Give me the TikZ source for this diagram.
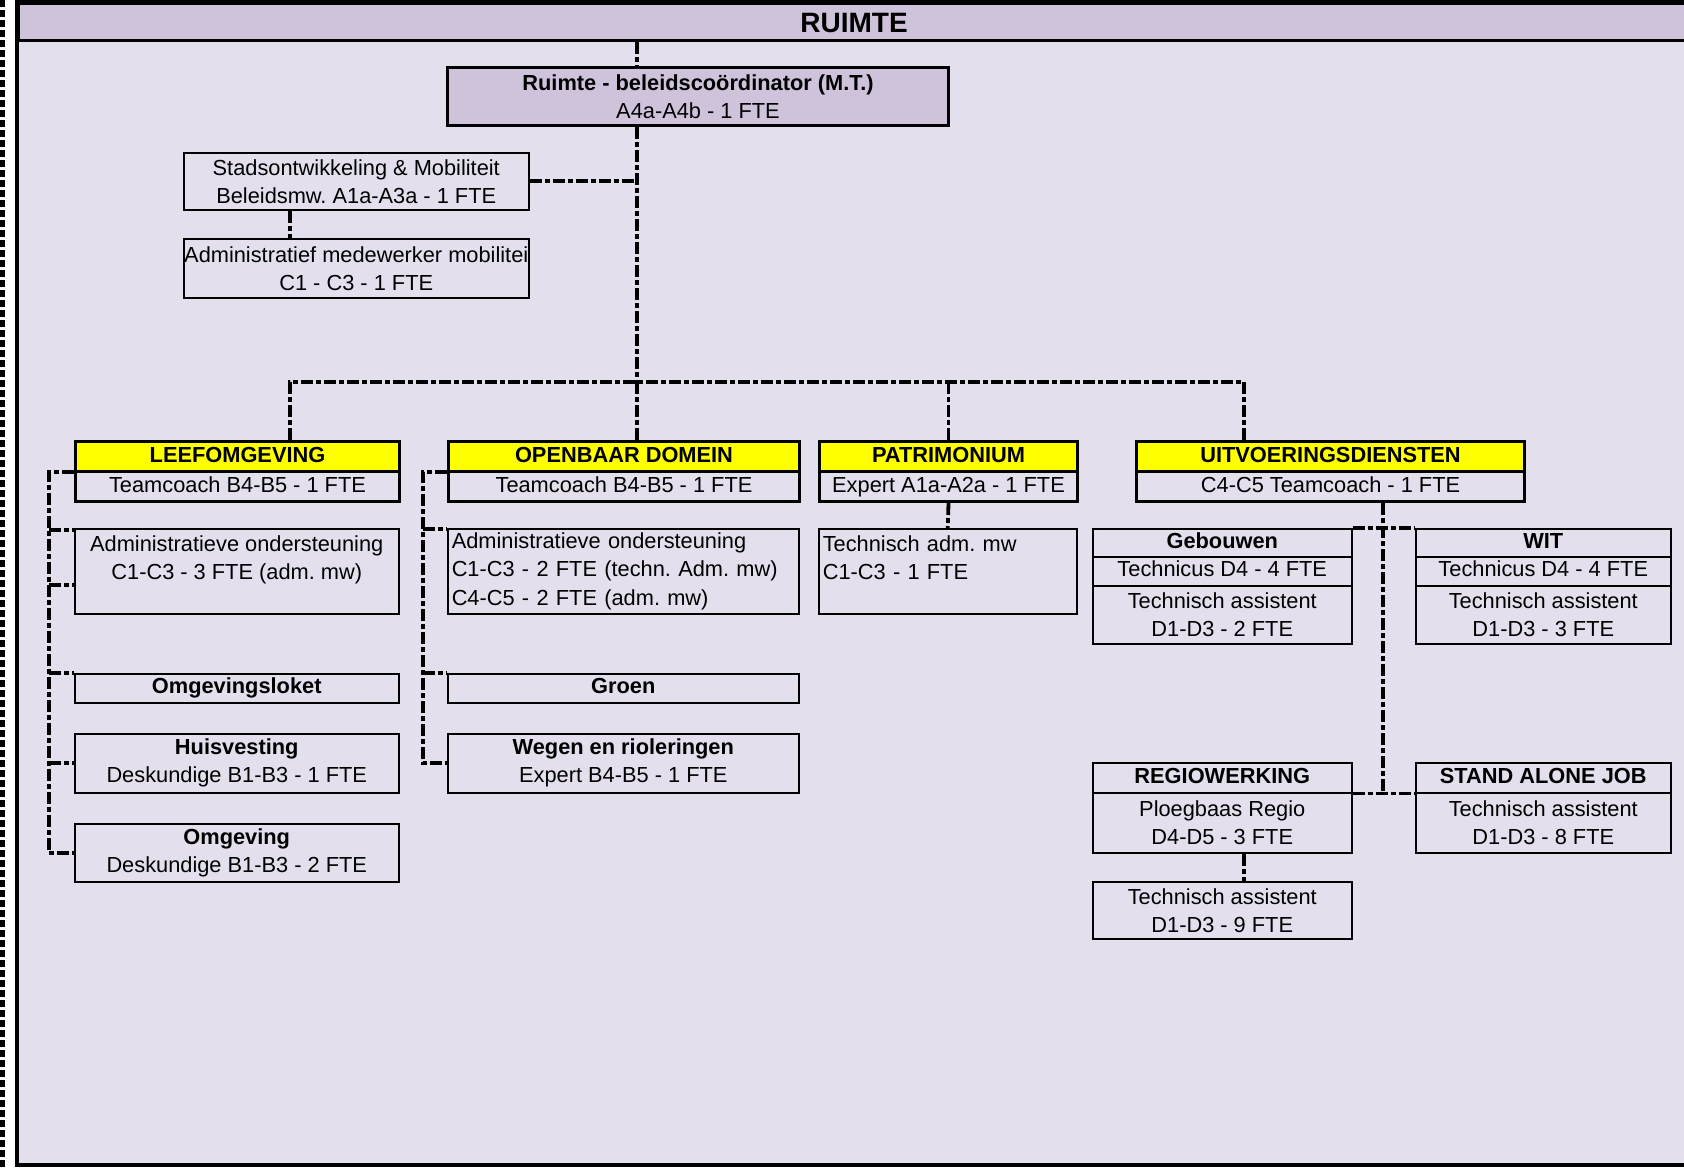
\documentclass[tikz,border=0pt]{standalone}
\usepackage{fontspec}
\setmainfont{Liberation Sans}
\usetikzlibrary{calc}
\definecolor{bg}{RGB}{227,223,237}
\definecolor{hdrc}{RGB}{207,195,220}
\definecolor{yel}{RGB}{255,255,0}
\frenchspacing
\begin{document}
\frenchspacing
\begin{tikzpicture}[x=0.5pt,y=-0.5pt,
  box/.style={draw, line width=0.75pt, fill=bg, inner sep=0pt, anchor=north west, align=center, font=\fontsize{10.9}{14}\selectfont},
  tbox/.style={box, line width=1.5pt},
  lbox/.style={box, align=left, inner xsep=2pt},
  sl/.style={text height=7.9pt, text depth=2.2pt},
  conn/.style={line width=1.9pt, dash pattern=on 6pt off 1.5pt on 2.5pt off 1.5pt}
]
\useasboundingbox (0,0) rectangle (1684,1168);
% left edge dashed line
\draw[line width=2.5pt, dash pattern=on 3.5pt off 1.5pt] (2.5,0) -- (2.5,1168);
% panel
\fill[bg] (17,2) rectangle (1720,1165);
\node[draw, line width=1.5pt, fill=hdrc, anchor=north west, minimum width=851.5pt, minimum height=18.5pt, inner sep=0pt] (hdr) at (17,2) {};
\draw[line width=2pt] (17,2) rectangle (1720,1165);
\node[font=\fontsize{14}{16}\selectfont\bfseries] (ruimte) at (854,23) {RUIMTE};
\draw[line width=1pt] (637,0) -- (637,2) (1523,0) -- (1523,2);

% top level
\node[tbox, fill=hdrc, minimum width=250.5pt, minimum height=29pt] (coord) at (446,66) {\textbf{Ruimte - beleidscoördinator (M.T.)}\\A4a-A4b - 1 FTE};
\node[box, minimum width=172.5pt, minimum height=28.5pt] (stads) at (183,152) {Stadsontwikkeling \& Mobiliteit\\Beleidsmw. A1a-A3a - 1 FTE};
\node[box, minimum width=172.5pt, minimum height=29.5pt] (admmob) at (183,238) {Administratief medewerker mobilitei\\C1 - C3 - 1 FTE};

% departments
\node[tbox, sl, fill=yel, minimum width=162pt, minimum height=15pt] (leefT) at (74,440) {\textbf{LEEFOMGEVING}};
\node[tbox, sl, minimum width=162pt, minimum height=15pt] (leefS) at (74,470) {Teamcoach B4-B5 - 1 FTE};
\node[tbox, sl, fill=yel, minimum width=175.5pt, minimum height=15pt] (odT) at (447,440) {\textbf{OPENBAAR DOMEIN}};
\node[tbox, sl, minimum width=175.5pt, minimum height=15pt] (odS) at (447,470) {Teamcoach B4-B5 - 1 FTE};
\node[tbox, sl, fill=yel, minimum width=129pt, minimum height=15pt] (patT) at (818,440) {\textbf{PATRIMONIUM}};
\node[tbox, sl, minimum width=129pt, minimum height=15pt] (patS) at (818,470) {Expert A1a-A2a - 1 FTE};
\node[tbox, sl, fill=yel, minimum width=194pt, minimum height=15pt] (uitvT) at (1135,440) {\textbf{UITVOERINGSDIENSTEN}};
\node[tbox, sl, minimum width=194pt, minimum height=15pt] (uitvS) at (1135,470) {C4-C5 Teamcoach - 1 FTE};

% leefomgeving children
\node[box, minimum width=162pt, minimum height=42.5pt] (la) at (74,528) {Administratieve ondersteuning\\C1-C3 - 3 FTE (adm. mw)\\\mbox{}};
\node[box, sl, minimum width=162pt, minimum height=14.5pt] (lo) at (74,673) {\textbf{Omgevingsloket}};
\node[box, minimum width=162pt, minimum height=29.5pt] (lh) at (74,733) {\textbf{Huisvesting}\\Deskundige B1-B3 - 1 FTE};
\node[box, minimum width=162pt, minimum height=29pt] (lg) at (74,823) {\textbf{Omgeving}\\Deskundige B1-B3 - 2 FTE};

% openbaar domein children
\node[lbox, text width=171.5pt, minimum height=42.5pt, font=\fontsize{10.9}{14.3}\selectfont] (oa) at (447,528) {Administratieve ondersteuning\\C1-C3 - 2 FTE (techn. Adm. mw)\\C4-C5 - 2 FTE (adm. mw)};
\node[box, sl, minimum width=175.5pt, minimum height=14.5pt] (og) at (447,673) {\textbf{Groen}};
\node[box, minimum width=175.5pt, minimum height=29.5pt] (ow) at (447,733) {\textbf{Wegen en rioleringen}\\Expert B4-B5 - 1 FTE};

% patrimonium child
\node[lbox, text width=125pt, minimum height=42.5pt] (pa) at (818,528) {Technisch adm. mw\\C1-C3 - 1 FTE\\\mbox{}};

% uitvoeringsdiensten children
\node[box, sl, minimum width=129.5pt, minimum height=14pt] (geb1) at (1092,528) {\textbf{Gebouwen}};
\node[box, sl, minimum width=129.5pt, minimum height=14.5pt] (geb2) at (1092,556) {Technicus D4 - 4 FTE};
\node[box, minimum width=129.5pt, minimum height=29pt] (geb3) at (1092,585) {Technisch assistent\\D1-D3 - 2 FTE};
\node[box, sl, minimum width=127.5pt, minimum height=14pt] (wit1) at (1415,528) {\textbf{WIT}};
\node[box, sl, minimum width=127.5pt, minimum height=14.5pt] (wit2) at (1415,556) {Technicus D4 - 4 FTE};
\node[box, minimum width=127.5pt, minimum height=29pt] (wit3) at (1415,585) {Technisch assistent\\D1-D3 - 3 FTE};
\node[box, sl, minimum width=129.5pt, minimum height=15pt] (regT) at (1092,762) {\textbf{REGIOWERKING}};
\node[box, minimum width=129.5pt, minimum height=30pt] (regB) at (1092,792) {Ploegbaas Regio\\D4-D5 - 3 FTE};
\node[box, sl, minimum width=127.5pt, minimum height=15pt] (sajT) at (1415,762) {\textbf{STAND ALONE JOB}};
\node[box, minimum width=127.5pt, minimum height=30pt] (sajB) at (1415,792) {Technisch assistent\\D1-D3 - 8 FTE};
\node[box, minimum width=129.5pt, minimum height=28.5pt] (ta9) at (1092,881) {Technisch assistent\\D1-D3 - 9 FTE};

% connectors
\coordinate (spx) at (637,382);
\coordinate (busL) at (290,382);
\coordinate (busR) at (1244,382);
\coordinate (lx) at (49,0);
\coordinate (ox) at (423,0);
\coordinate (ux) at (1383,0);
\draw[conn] (hdr.south -| spx) -- (coord.north -| spx);
\draw[conn] (coord.south -| spx) -- (spx);
\draw[conn] (stads.east) -- (stads.east -| spx);
\draw[conn] (stads.south -| busL) -- (admmob.north -| busL);
\draw[conn] (leefT.north -| busL) -- (busL) -- (busR) -- (uitvT.north -| busR);
\draw[conn] (spx) -- (odT.north -| spx);
\draw[conn] (patT.north |- spx) -- (patT.north);
% leefomgeving spine
\draw[conn] ($(leefS.north west)+(0,2)$) -- ($(leefS.north west -| lx)+(0,2)$) -- (lg.west -| lx) -- (lg.west);
\draw[conn] ($(la.north west -| lx)+(0,2)$) -- ($(la.north west)+(0,2)$);
\draw[conn] ($(la.north west -| lx)+(0,57)$) -- ($(la.north west)+(0,57)$);
\draw[conn] (lo.north west -| lx) -- (lo.north west);
\draw[conn] (lh.west -| lx) -- (lh.west);
% openbaar domein spine
\draw[conn] ($(odS.north west)+(0,2)$) -- ($(odS.north west -| ox)+(0,2)$) -- (ow.west -| ox) -- (ow.west);
\draw[conn] ($(oa.north west -| ox)+(0,1)$) -- ($(oa.north west)+(0,1)$);
\draw[conn] (og.north west -| ox) -- (og.north west);
% patrimonium
\draw[conn] (patS.south) -- (pa.north);
% uitvoeringsdiensten
\draw[conn] (uitvS.south -| ux) -- (regT.south -| ux);
\draw[conn] (geb1.north east) -- (wit1.north west);
\draw[conn] (regT.south east) -- (sajT.south west);
\draw[conn] (regB.south -| busR) -- (ta9.north -| busR);
\end{tikzpicture}
\end{document}
